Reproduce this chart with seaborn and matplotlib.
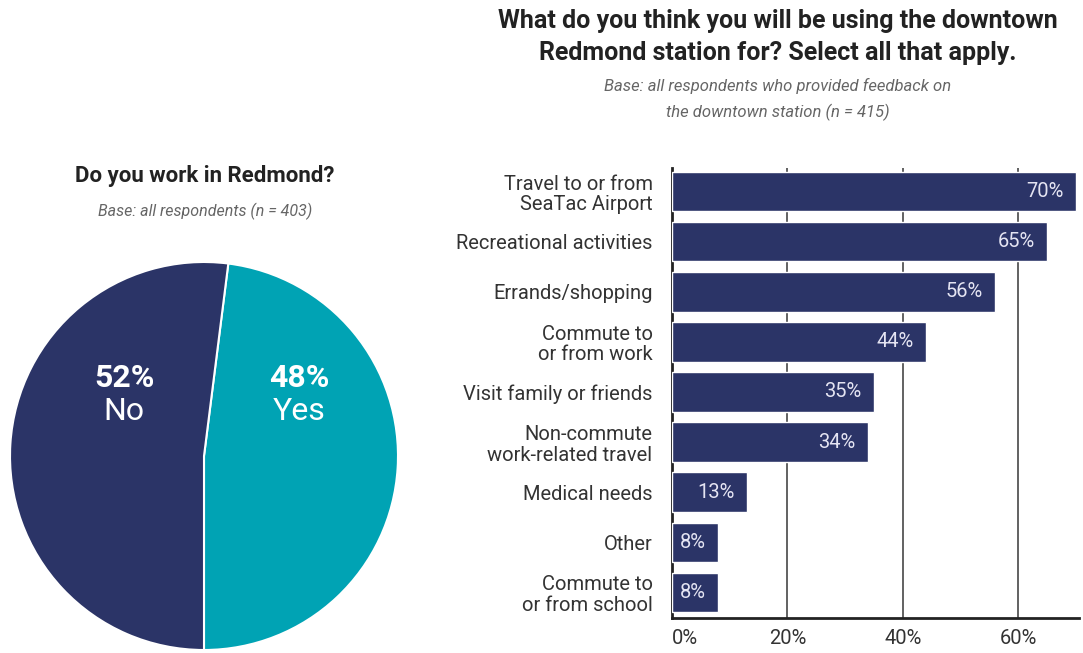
import matplotlib
matplotlib.use("Agg")
import matplotlib.pyplot as plt
import seaborn as sns
import pandas as pd
from matplotlib import font_manager as fm

sns.set_theme(style="white")
names = {f.name for f in fm.fontManager.ttflist}
cond = "Liberation Sans Narrow" if "Liberation Sans Narrow" in names else "Roboto"
plt.rcParams['font.family'] = [cond, 'DejaVu Sans']

NAVY = "#2B3467"
TEAL = "#00A3B4"
TXT = "#333333"

# Pie data
pie_labels = ["Yes", "No"]
pie_values = [48, 52]

# Bar data
categories = ["Travel to or from\nSeaTac Airport", "Recreational activities", "Errands/shopping",
              "Commute to\nor from work", "Visit family or friends", "Non-commute\nwork-related travel",
              "Medical needs", "Other", "Commute to\nor from school"]
values = [70, 65, 56, 44, 35, 34, 13, 8, 8]
xticks = [0, 20, 40, 60]
xtick_labels = ["0%", "20%", "40%", "60%"]

W, H = 1083, 653
fig = plt.figure(figsize=(W / 100, H / 100), dpi=100)

# ---- Pie ----
cx, cy, r = 204, 456, 194
axp = fig.add_axes([(cx - r) / W, 1 - (cy + r) / H, 2 * r / W, 2 * r / H])
axp.pie(pie_values, colors=[TEAL, NAVY], startangle=-90, counterclock=True, radius=1,
        wedgeprops=dict(edgecolor="white", linewidth=1.5))
axp.set_xlim(-1, 1); axp.set_ylim(-1, 1)
axp.set_aspect("auto")
axp.axis("off")
for lab, val, px in [("No", 52, 124), ("Yes", 48, 299)]:
    xd = (px - cx) / r
    axp.text(xd, (cy - 378) / r, f"{val}%", color="white", fontsize=23, fontweight="bold",
             ha="center", va="center")
    axp.text(xd, (cy - 412) / r, lab, color="white", fontsize=23, ha="center", va="center")

fig.text(205 / W, 1 - 176 / H, "Do you work in Redmond?", fontsize=16, fontweight="bold",
         color="#222222", ha="center", va="center")
fig.text(205 / W, 1 - 211 / H, "Base: all respondents (n = 403)", fontsize=11.5, style="italic",
         color="#666666", ha="center", va="center")

# ---- Bars ----
left, right, top, bottom = 672, 1079, 168, 618
ax = fig.add_axes([left / W, 1 - bottom / H, (right - left) / W, (bottom - top) / H])
df = pd.DataFrame({"cat": categories, "val": values})
sns.barplot(data=df, x="val", y="cat", orient="h", color=NAVY, saturation=1, width=0.79, ax=ax, zorder=3)
ax.set_xlim(0, 70.5)
ax.set_ylim(8.51, -0.47)
ax.set_xlabel(""); ax.set_ylabel("")
ax.set_xticks(xticks)
ax.set_xticklabels(xtick_labels)
ax.grid(axis="x", color="#555555", linewidth=1.3, zorder=0)
ax.grid(axis="y", visible=False)
ax.set_axisbelow(True)
for s in ["top", "right"]:
    ax.spines[s].set_visible(False)
for s in ["left", "bottom"]:
    ax.spines[s].set_visible(True)
    ax.spines[s].set_color("#222222")
    ax.spines[s].set_linewidth(2)
ax.tick_params(axis="x", length=0, pad=8, labelsize=14.5, labelcolor=TXT)
ax.tick_params(axis="y", length=0, pad=14, labelsize=14.5, labelcolor=TXT)
for t in ax.get_yticklabels():
    t.set_linespacing(1.1)
ax.get_xticklabels()[0].set_ha("left")
ax.bar_label(ax.containers[0], labels=[f"{v}%" for v in values], padding=-9,
             color="#E4E4F2", fontsize=14.5, label_type="edge")
for t in ax.texts:
    t.set_ha("right")

fig.text(778 / W, 1 - 21 / H, "What do you think you will be using the downtown", fontsize=18,
         fontweight="bold", color="#222222", ha="center", va="center")
fig.text(778 / W, 1 - 53 / H, "Redmond station for? Select all that apply.", fontsize=18,
         fontweight="bold", color="#222222", ha="center", va="center")
fig.text(778 / W, 1 - 86 / H, "Base: all respondents who provided feedback on", fontsize=12,
         style="italic", color="#666666", ha="center", va="center")
fig.text(778 / W, 1 - 112 / H, "the downtown station (n = 415)", fontsize=12,
         style="italic", color="#666666", ha="center", va="center")

fig.savefig("out.png", dpi=100)
